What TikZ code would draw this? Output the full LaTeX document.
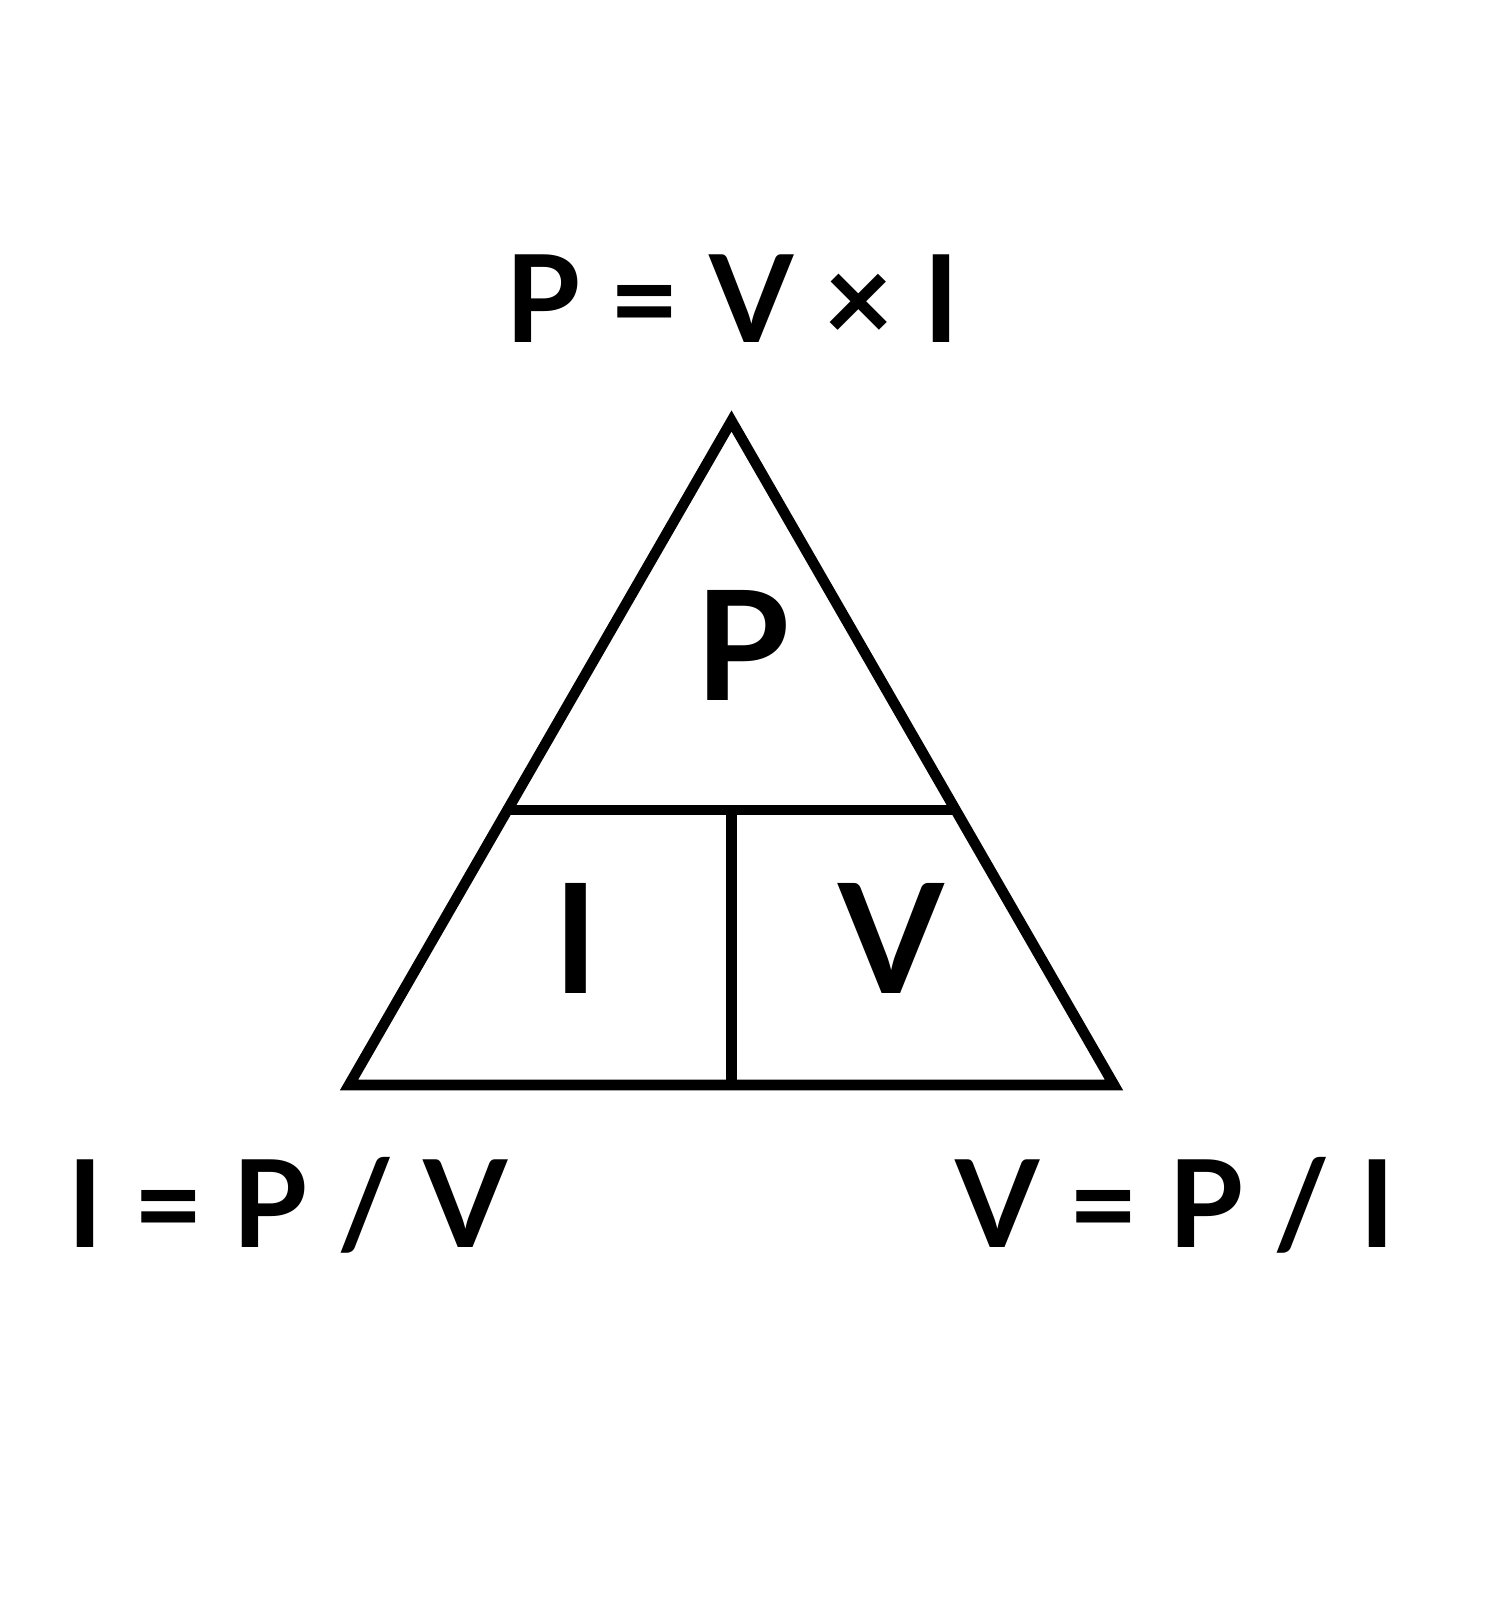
\documentclass[tikz,border=0pt]{standalone}
\usepackage{fontspec}
\setmainfont{Lato}
\usetikzlibrary{positioning,calc}

\begin{document}
\begin{tikzpicture}[x=0.01cm, y=-0.01cm,
	formula/.style={font=\bfseries\fontsize{34.5}{40}\selectfont, inner sep=0pt},
	letter/.style={font=\bfseries\fontsize{43.3}{50}\selectfont, inner sep=0pt},
	edge/.style={line width=3pt, line join=miter}]
	\useasboundingbox[fill=white] (0,0) rectangle (1500,1600);
	% power triangle
	\coordinate (apex) at (731.5,421);
	\coordinate (corner left) at (349,1085);
	\coordinate (corner right) at (1114,1085);
	\coordinate (side left) at ($(apex)!0.586!(corner left)$);
	\coordinate (side right) at ($(apex)!0.586!(corner right)$);
	\coordinate (split) at (731.5,0 |- side left);
	\draw[edge] (apex) -- (corner left) -- (corner right) -- cycle;
	\draw[edge] (side left) -- (side right);
	\draw[edge] (split) -- (split |- corner left);
	% letters inside
	\node[letter, anchor=base] (power) at (742.5,700) {P};
	\node[letter, anchor=base] (current) at (576,993) {I};
	\node[letter, anchor=base] (voltage) at (891,993) {V};
	% formulas
	\node[formula, anchor=base] (formula power) at (732.5,342) {P = V × I};
	\node[formula, anchor=base west] (formula current) at (67,1247) {I = P / V};
	\node[formula, anchor=base east] (formula voltage) at (1396,1247) {V = P / I};
\end{tikzpicture}
\end{document}
